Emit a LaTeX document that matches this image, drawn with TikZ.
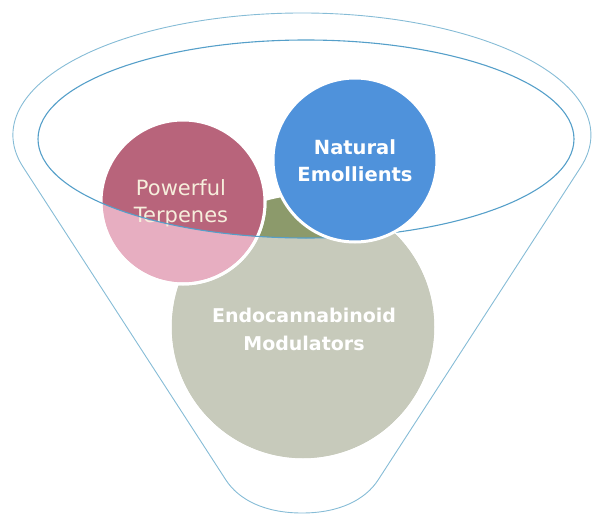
\documentclass[tikz,border=0pt]{standalone}
\usepackage{fontspec}
\newfontfamily\dvs{DejaVu Sans}
\definecolor{pinkL}{HTML}{E7AEC1}
\definecolor{maroonD}{HTML}{B8647B}
\definecolor{oliveD}{HTML}{8C9A6B}
\definecolor{grayL}{HTML}{C7CABB}
\definecolor{blueC}{HTML}{4F92DB}
\definecolor{funnelC}{HTML}{86BCD6}
\definecolor{ringC}{HTML}{559FC9}
\definecolor{creamT}{HTML}{F6EEDC}
\tikzset{
  funnelline/.style={draw=funnelC, line width=0.9pt},
  ringline/.style={draw=ringC, line width=1.1pt},
  bubble/.style={circle, inner sep=0pt, draw=white, line width=3pt},
  label/.style={align=center, inner sep=0pt, font=\dvs}
}
\begin{document}
\begin{tikzpicture}[x=1pt,y=-1pt]
\useasboundingbox (0,0) rectangle (592,514);
% funnel outline
\coordinate (fl) at (23.2,167.2);
\coordinate (fl2) at (225.9,480);
\coordinate (fr2) at (378.1,480);
\coordinate (fb) at (302,513);
\draw[funnelline] (fl) arc[start angle=164.7, end angle=375.3, x radius=289, y radius=122]
  -- (fr2) .. controls (365.1,500) and (339,513) .. (fb)
  .. controls (265,513) and (238.9,500) .. (fl2) -- cycle;
% gray circle
\node[bubble, fill=grayL, minimum size=266] (gray) at (303,327) {};
\begin{scope}
  \clip (306,139) ellipse [x radius=268, y radius=99];
  \fill[oliveD] (gray.center) circle [radius=132];
\end{scope}
\draw[white, line width=3pt] (gray.center) circle [radius=133];
% pink circle
\node[bubble, fill=pinkL, minimum size=164] (pink) at (183,202) {};
\begin{scope}
  \clip (306,139) ellipse [x radius=268, y radius=99];
  \fill[maroonD] (pink.center) circle [radius=81];
\end{scope}
\draw[white, line width=3pt] (pink.center) circle [radius=82];
\node[label, text=creamT, font=\dvs\fontsize{21}{27}\selectfont] (t1) at (181,203) {Powerful\\Terpenes};
% inner ring
\draw[ringline] (306,139) ellipse [x radius=268, y radius=99];
% blue circle
\node[bubble, fill=blueC, minimum size=164] (blue) at (355,160) {};
\node[label, text=white, font=\dvs\bfseries\fontsize{19.5}{27}\selectfont] (t2) at (355,161) {Natural\\Emollients};
\node[label, text=white, font=\dvs\bfseries\fontsize{19}{28}\selectfont] (t3) at (304,329) {Endocannabinoid\\Modulators};
\end{tikzpicture}
\end{document}
